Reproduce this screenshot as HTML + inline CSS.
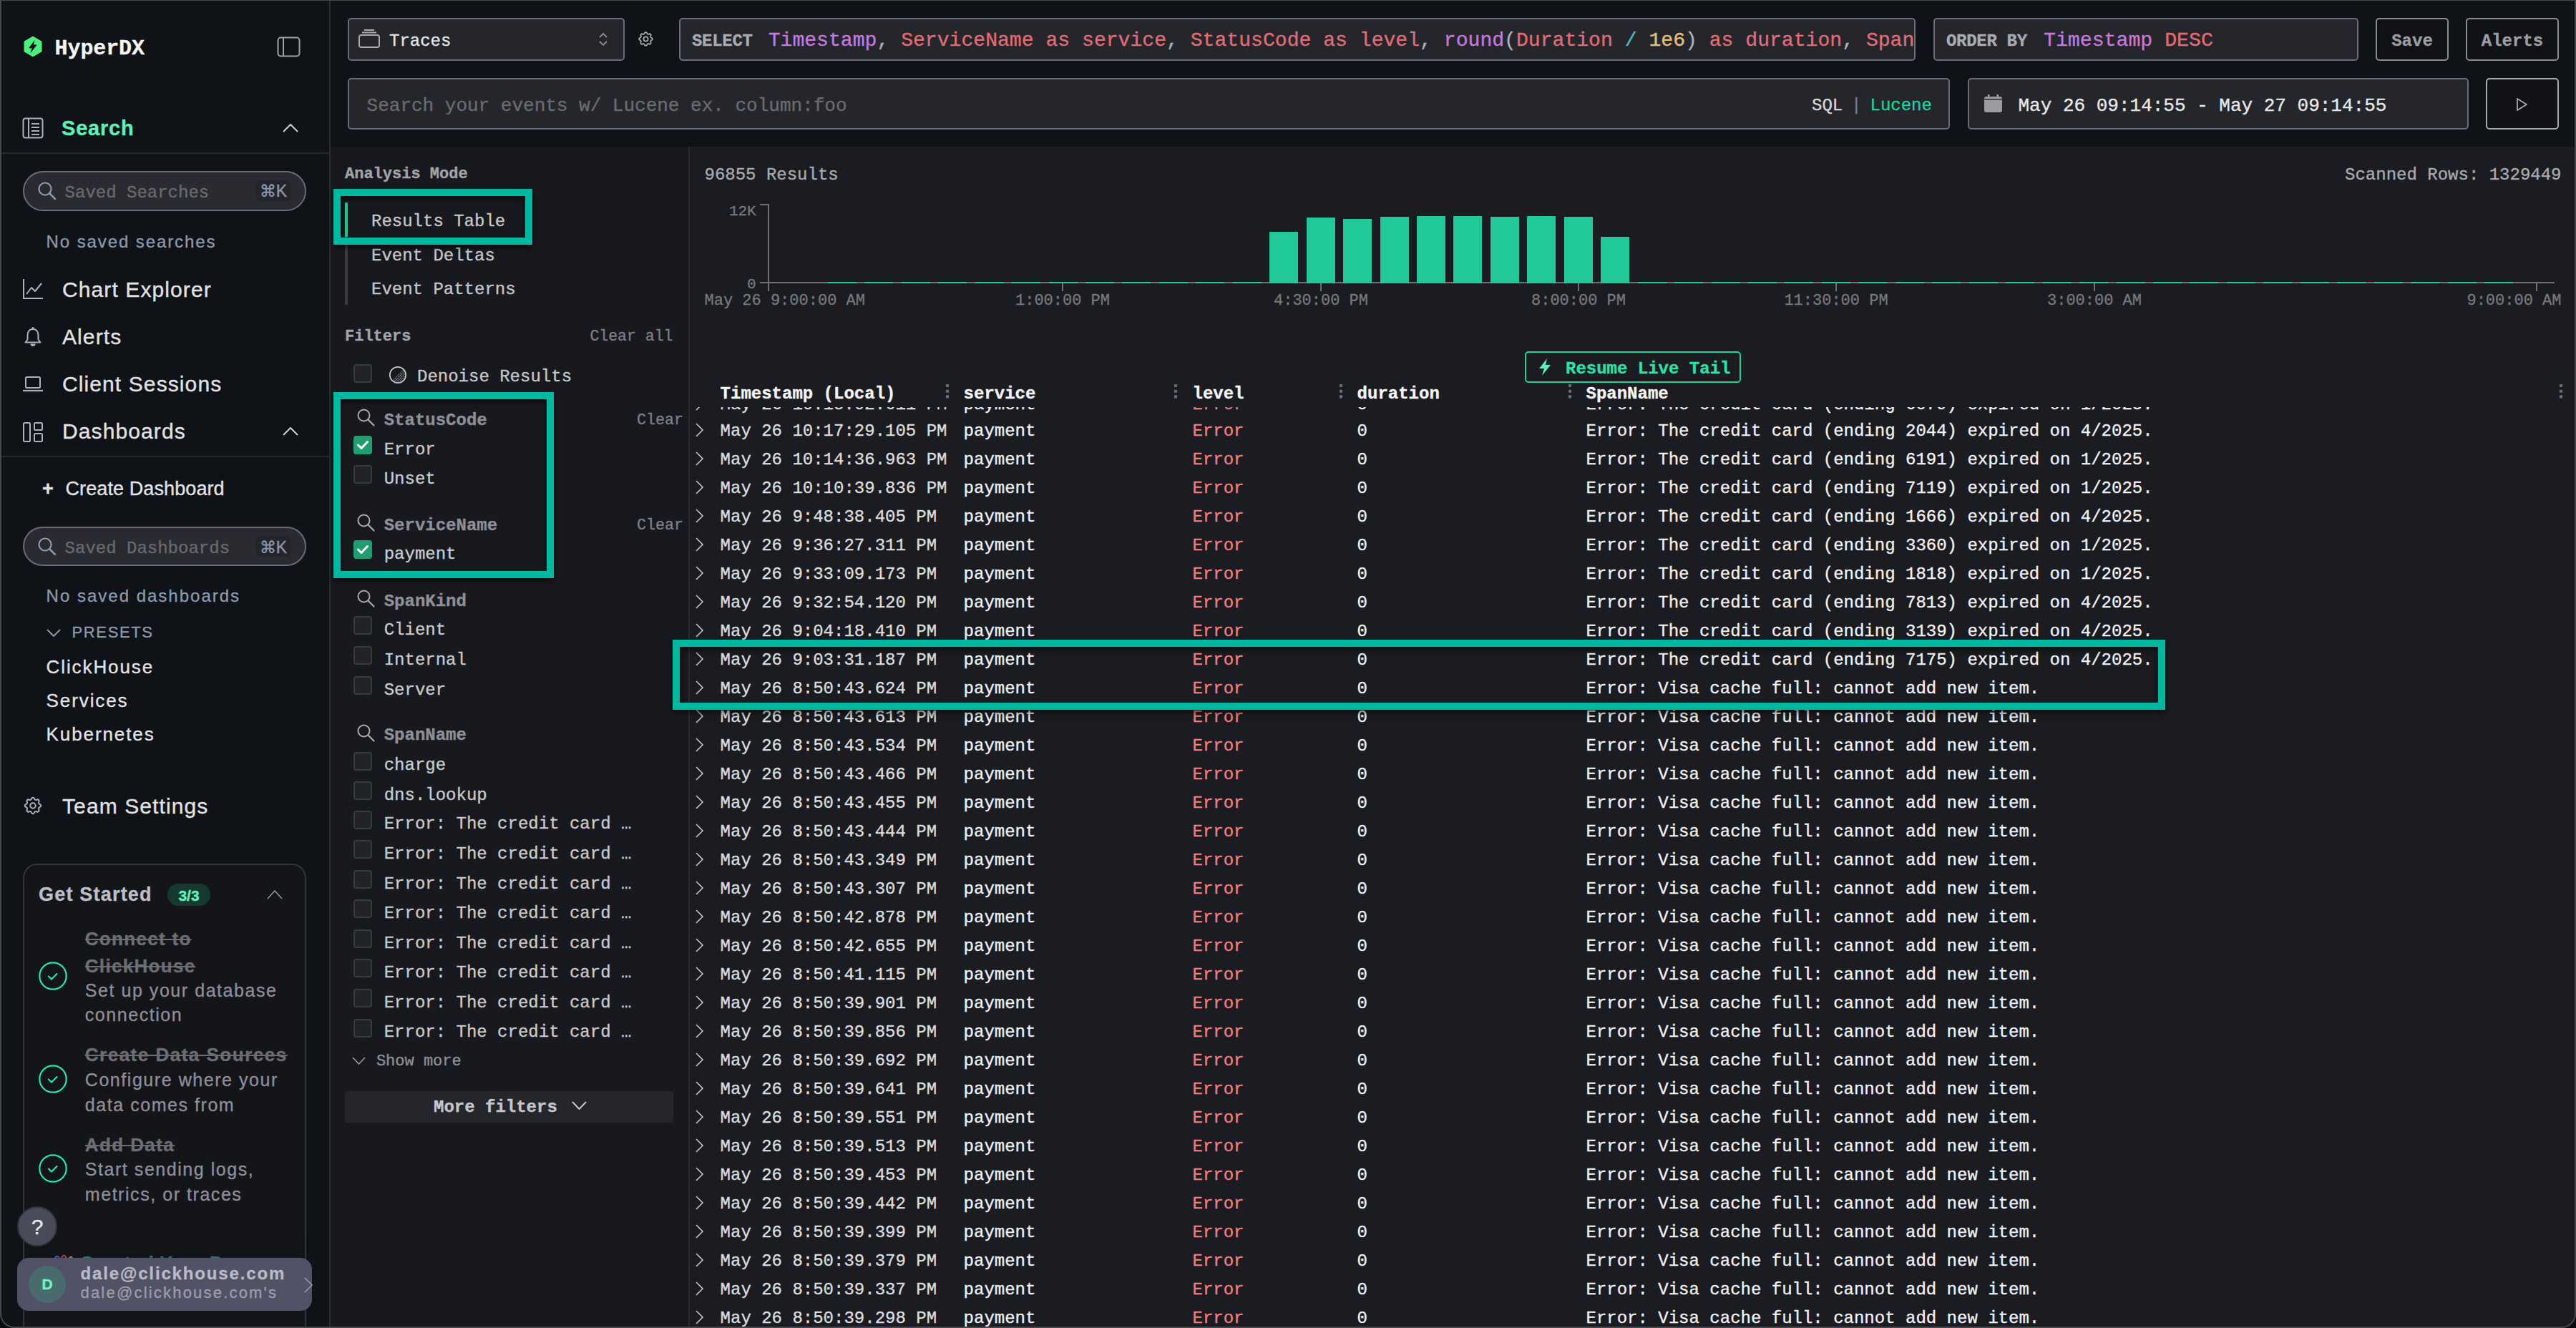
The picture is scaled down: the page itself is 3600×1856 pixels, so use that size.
<!DOCTYPE html>
<html><head><meta charset="utf-8"><title>HyperDX Search</title>
<style>
html,body{margin:0;padding:0;width:3600px;height:1856px;overflow:hidden;background:#0a0a0b;}
#root{position:relative;width:3600px;height:1856px;overflow:hidden;}
.t{position:absolute;white-space:pre;line-height:1;-webkit-text-stroke:0.35px currentColor;}
.r{position:absolute;display:block;}
</style></head><body><div id="root">
<div class="r" style="left:0px;top:0px;width:460px;height:1856px;background:#0f1217;"></div>
<div class="r" style="left:460px;top:0px;width:2px;height:1856px;background:#2a2b30;"></div>
<div class="r" style="left:462px;top:0px;width:3138px;height:205px;background:#0f1217;"></div>
<div class="r" style="left:462px;top:205px;width:3138px;height:1651px;background:#1b1c21;"></div>
<div class="r" style="left:462px;top:205px;width:500px;height:1651px;background:#18191e;"></div>
<div class="r" style="left:962px;top:205px;width:2px;height:1651px;background:#2a2b30;"></div>
<svg class="r" style="left:33px;top:50px;" width="26" height="30" viewBox="0 0 26 30"><path d="M13 1 L25 8 L25 22 L13 29 L1 22 L1 8 Z" fill="#4cef7e" stroke="#4cef7e" stroke-width="1" stroke-linejoin="round"/><path d="M15.5 6 L7.2 17.2 L11.6 17.2 L9.6 24.5 L18.6 12.4 L14 12.4 Z" fill="#0f1217"/></svg>
<div class="t" style="left:76.6px;top:53.0px;font-family:'Liberation Mono', monospace;font-size:30px;color:#f4f4f5;font-weight:700;letter-spacing:-0.1px;">HyperDX</div>
<svg class="r" style="left:387px;top:51px;" width="33" height="29" viewBox="0 0 33 29"><rect x="1.5" y="1.5" width="30" height="26" rx="4" fill="none" stroke="#9fa1a7" stroke-width="2"/><line x1="9" y1="2" x2="9" y2="27" stroke="#9fa1a7" stroke-width="2"/></svg>
<svg class="r" style="left:31px;top:164px;" width="30" height="30" viewBox="0 0 30 30"><rect x="1.5" y="1.5" width="27" height="27" rx="3" fill="none" stroke="#aab2bf" stroke-width="2"/><line x1="9" y1="2" x2="9" y2="28" stroke="#aab2bf" stroke-width="2"/><line x1="13" y1="9" x2="24" y2="9" stroke="#aab2bf" stroke-width="2"/><line x1="13" y1="14" x2="24" y2="14" stroke="#aab2bf" stroke-width="2"/><line x1="13" y1="19" x2="24" y2="19" stroke="#aab2bf" stroke-width="2"/><line x1="13" y1="24" x2="24" y2="24" stroke="#aab2bf" stroke-width="2"/></svg>
<div class="t" style="left:86.0px;top:165.3px;font-family:'Liberation Sans', sans-serif;font-size:29px;color:#5ef0b6;font-weight:700;letter-spacing:0.8px;">Search</div>
<svg class="r" style="left:395px;top:173px;" width="22" height="12" viewBox="0 0 22 12"><polyline points="1,11 11.0,1 21,11" fill="none" stroke="#d0d2d6" stroke-width="2"/></svg>
<div class="r" style="left:0px;top:213px;width:460px;height:2px;background:#25272c;"></div>
<div class="r" style="left:32px;top:239px;width:396px;height:56px;background:#2a2b31;border:2px solid #6a697a;border-radius:28px;box-sizing:border-box;"></div>
<svg class="r" style="left:52px;top:253px;" width="27" height="27" viewBox="0 0 27 27"><circle cx="11" cy="11" r="8.5" fill="none" stroke="#8b9ab0" stroke-width="2.2"/><line x1="17.5" y1="17.5" x2="25" y2="25" stroke="#8b9ab0" stroke-width="2.5" stroke-linecap="round"/></svg>
<div class="t" style="left:90.6px;top:257.8px;font-family:'Liberation Mono', monospace;font-size:24px;color:#696a70;">Saved Searches</div>
<div class="r" style="left:357px;top:252px;width:50px;height:29px;background:#24252a;border-radius:7px;"></div>
<div class="t" style="left:382.0px;top:256.4px;font-family:'Liberation Sans', sans-serif;font-size:23px;color:#8a99ae;transform:translateX(-50%);">⌘K</div>
<div class="t" style="left:64.6px;top:325.6px;font-family:'Liberation Sans', sans-serif;font-size:24px;color:#8b99ad;letter-spacing:1.9px;">No saved searches</div>
<svg class="r" style="left:31px;top:389px;" width="30" height="30" viewBox="0 0 30 30"><polyline points="2,1 2,28 29,28" fill="none" stroke="#aab2bf" stroke-width="2"/><polyline points="6,22 13,13 18,18 27,7" fill="none" stroke="#aab2bf" stroke-width="2" stroke-linejoin="round"/></svg>
<div class="t" style="left:87.0px;top:389.5px;font-family:'Liberation Sans', sans-serif;font-size:30px;color:#e2e2e4;letter-spacing:1.1px;">Chart Explorer</div>
<svg class="r" style="left:31px;top:455px;" width="30" height="32" viewBox="0 0 30 32"><path d="M15 5 C9.5 5 7.5 9.5 7.5 13.5 L7.5 19.5 L4.5 23.5 L25.5 23.5 L22.5 19.5 L22.5 13.5 C22.5 9.5 20.5 5 15 5 Z" fill="none" stroke="#aab2bf" stroke-width="2" stroke-linejoin="round"/><circle cx="15" cy="3.6" r="1.6" fill="#aab2bf"/><path d="M11.5 25.5 A3.5 3.5 0 0 0 18.5 25.5 Z" fill="#aab2bf"/></svg>
<div class="t" style="left:87.0px;top:455.5px;font-family:'Liberation Sans', sans-serif;font-size:30px;color:#e2e2e4;letter-spacing:1.1px;">Alerts</div>
<svg class="r" style="left:31px;top:525px;" width="30" height="24" viewBox="0 0 30 24"><rect x="5" y="2" width="20" height="15" rx="1.5" fill="none" stroke="#aab2bf" stroke-width="2"/><line x1="1" y1="21" x2="29" y2="21" stroke="#aab2bf" stroke-width="2.2"/></svg>
<div class="t" style="left:87.0px;top:521.5px;font-family:'Liberation Sans', sans-serif;font-size:30px;color:#e2e2e4;letter-spacing:1.1px;">Client Sessions</div>
<svg class="r" style="left:31px;top:589px;" width="30" height="30" viewBox="0 0 30 30"><rect x="2" y="2" width="9" height="26" rx="1.5" fill="none" stroke="#aab2bf" stroke-width="2"/><rect x="17" y="2" width="11" height="10" rx="1.5" fill="none" stroke="#aab2bf" stroke-width="2"/><rect x="17" y="17" width="11" height="11" rx="1.5" fill="none" stroke="#aab2bf" stroke-width="2"/></svg>
<div class="t" style="left:87.0px;top:587.5px;font-family:'Liberation Sans', sans-serif;font-size:30px;color:#e2e2e4;letter-spacing:1.1px;">Dashboards</div>
<svg class="r" style="left:395px;top:597px;" width="22" height="12" viewBox="0 0 22 12"><polyline points="1,11 11.0,1 21,11" fill="none" stroke="#d0d2d6" stroke-width="2"/></svg>
<div class="r" style="left:0px;top:637px;width:460px;height:2px;background:#25272c;"></div>
<div class="t" style="left:59.0px;top:670.0px;font-family:'Liberation Sans', sans-serif;font-size:27px;color:#e2e2e4;font-weight:700;">+</div>
<div class="t" style="left:91.5px;top:670.0px;font-family:'Liberation Sans', sans-serif;font-size:27px;color:#e2e2e4;letter-spacing:0.1px;">Create Dashboard</div>
<div class="r" style="left:32px;top:736px;width:396px;height:55px;background:#2a2b31;border:2px solid #6a697a;border-radius:28px;box-sizing:border-box;"></div>
<svg class="r" style="left:52px;top:750px;" width="27" height="27" viewBox="0 0 27 27"><circle cx="11" cy="11" r="8.5" fill="none" stroke="#8b9ab0" stroke-width="2.2"/><line x1="17.5" y1="17.5" x2="25" y2="25" stroke="#8b9ab0" stroke-width="2.5" stroke-linecap="round"/></svg>
<div class="t" style="left:90.6px;top:754.8px;font-family:'Liberation Mono', monospace;font-size:24px;color:#696a70;">Saved Dashboards</div>
<div class="r" style="left:357px;top:749px;width:50px;height:29px;background:#24252a;border-radius:7px;"></div>
<div class="t" style="left:382.0px;top:753.5px;font-family:'Liberation Sans', sans-serif;font-size:23px;color:#8a99ae;transform:translateX(-50%);">⌘K</div>
<div class="t" style="left:64.6px;top:820.6px;font-family:'Liberation Sans', sans-serif;font-size:24px;color:#8b99ad;letter-spacing:2.0px;">No saved dashboards</div>
<svg class="r" style="left:65px;top:879px;" width="20" height="11" viewBox="0 0 20 11"><polyline points="1,1 10.0,10 19,1" fill="none" stroke="#8b99ad" stroke-width="2"/></svg>
<div class="t" style="left:100.6px;top:873.3px;font-family:'Liberation Sans', sans-serif;font-size:22px;color:#8b99ad;letter-spacing:1.6px;">PRESETS</div>
<div class="t" style="left:64.6px;top:919.3px;font-family:'Liberation Sans', sans-serif;font-size:26px;color:#e2e2e4;letter-spacing:1.9px;">ClickHouse</div>
<div class="t" style="left:64.6px;top:965.9px;font-family:'Liberation Sans', sans-serif;font-size:26px;color:#e2e2e4;letter-spacing:1.9px;">Services</div>
<div class="t" style="left:64.6px;top:1012.5px;font-family:'Liberation Sans', sans-serif;font-size:26px;color:#e2e2e4;letter-spacing:1.9px;">Kubernetes</div>
<svg class="r" style="left:31px;top:1111px;" width="30" height="30" viewBox="0 0 24 24"><path d="M10.325 4.317c.426 -1.756 2.924 -1.756 3.35 0a1.724 1.724 0 0 0 2.573 1.066c1.543 -.94 3.31 .826 2.37 2.37a1.724 1.724 0 0 0 1.065 2.572c1.756 .426 1.756 2.924 0 3.35a1.724 1.724 0 0 0 -1.066 2.573c.94 1.543 -.826 3.31 -2.37 2.37a1.724 1.724 0 0 0 -2.572 1.065c-.426 1.756 -2.924 1.756 -3.35 0a1.724 1.724 0 0 0 -2.573 -1.066c-1.543 .94 -3.31 -.826 -2.37 -2.37a1.724 1.724 0 0 0 -1.065 -2.572c-1.756 -.426 -1.756 -2.924 0 -3.35a1.724 1.724 0 0 0 1.066 -2.573c-.94 -1.543 .826 -3.31 2.37 -2.37c1 .608 2.296 .07 2.572 -1.065z" fill="none" stroke="#aab2bf" stroke-width="1.60" stroke-linejoin="round"/><circle cx="12" cy="12" r="3" fill="none" stroke="#aab2bf" stroke-width="1.60"/></svg>
<div class="t" style="left:87.0px;top:1112.1px;font-family:'Liberation Sans', sans-serif;font-size:30px;color:#e2e2e4;letter-spacing:1.1px;">Team Settings</div>
<div class="r" style="left:32px;top:1207px;width:396px;height:693px;background:#141519;border:2px solid #33343a;border-radius:20px;box-sizing:border-box;"></div>
<div class="t" style="left:54.0px;top:1237.0px;font-family:'Liberation Sans', sans-serif;font-size:27px;color:#bdbec6;font-weight:700;letter-spacing:1.2px;">Get Started</div>
<div class="r" style="left:234px;top:1235px;width:60px;height:31px;background:#173a30;border-radius:16px;"></div>
<div class="t" style="left:264.0px;top:1241.2px;font-family:'Liberation Sans', sans-serif;font-size:21px;color:#62f2bf;font-weight:700;transform:translateX(-50%);">3/3</div>
<svg class="r" style="left:373px;top:1244px;" width="22" height="13" viewBox="0 0 22 13"><polyline points="1,12 11.0,1 21,12" fill="none" stroke="#8896aa" stroke-width="1.6"/></svg>
<div class="t" style="left:118.8px;top:1298.9px;font-family:'Liberation Sans', sans-serif;font-size:26px;color:#6c6d75;font-weight:700;letter-spacing:1.3px;text-decoration:line-through;text-decoration-thickness:2px;">Connect to</div>
<div class="t" style="left:118.8px;top:1337.4px;font-family:'Liberation Sans', sans-serif;font-size:26px;color:#6c6d75;font-weight:700;letter-spacing:1.3px;text-decoration:line-through;text-decoration-thickness:2px;">ClickHouse</div>
<svg class="r" style="left:54px;top:1344px;" width="40" height="40" viewBox="0 0 40 40"><circle cx="20" cy="20" r="18.7" fill="none" stroke="#27e8a8" stroke-width="2.2"/><polyline points="14,20.5 18,24.5 25.5,17" fill="none" stroke="#27e8a8" stroke-width="2.2" stroke-linecap="round" stroke-linejoin="round"/></svg>
<div class="t" style="left:118.8px;top:1371.8px;font-family:'Liberation Sans', sans-serif;font-size:25px;color:#8e8d99;letter-spacing:1.55px;">Set up your database</div>
<div class="t" style="left:118.8px;top:1405.8px;font-family:'Liberation Sans', sans-serif;font-size:25px;color:#8e8d99;letter-spacing:1.55px;">connection</div>
<div class="t" style="left:118.8px;top:1461.4px;font-family:'Liberation Sans', sans-serif;font-size:26px;color:#6c6d75;font-weight:700;letter-spacing:1.5px;text-decoration:line-through;text-decoration-thickness:2px;">Create Data Sources</div>
<svg class="r" style="left:54px;top:1488px;" width="40" height="40" viewBox="0 0 40 40"><circle cx="20" cy="20" r="18.7" fill="none" stroke="#27e8a8" stroke-width="2.2"/><polyline points="14,20.5 18,24.5 25.5,17" fill="none" stroke="#27e8a8" stroke-width="2.2" stroke-linecap="round" stroke-linejoin="round"/></svg>
<div class="t" style="left:118.8px;top:1497.2px;font-family:'Liberation Sans', sans-serif;font-size:25px;color:#8e8d99;letter-spacing:1.55px;">Configure where your</div>
<div class="t" style="left:118.8px;top:1531.5px;font-family:'Liberation Sans', sans-serif;font-size:25px;color:#8e8d99;letter-spacing:1.55px;">data comes from</div>
<div class="t" style="left:118.8px;top:1586.5px;font-family:'Liberation Sans', sans-serif;font-size:26px;color:#6c6d75;font-weight:700;letter-spacing:1.4px;text-decoration:line-through;text-decoration-thickness:2px;">Add Data</div>
<svg class="r" style="left:54px;top:1613px;" width="40" height="40" viewBox="0 0 40 40"><circle cx="20" cy="20" r="18.7" fill="none" stroke="#27e8a8" stroke-width="2.2"/><polyline points="14,20.5 18,24.5 25.5,17" fill="none" stroke="#27e8a8" stroke-width="2.2" stroke-linecap="round" stroke-linejoin="round"/></svg>
<div class="t" style="left:118.8px;top:1621.8px;font-family:'Liberation Sans', sans-serif;font-size:25px;color:#8e8d99;letter-spacing:1.55px;">Start sending logs,</div>
<div class="t" style="left:118.8px;top:1656.5px;font-family:'Liberation Sans', sans-serif;font-size:25px;color:#8e8d99;letter-spacing:1.55px;">metrics, or traces</div>
<div class="r" style="left:34px;top:1727px;width:392px;height:33px;background:#131418;"></div>
<div class="t" style="left:112.0px;top:1751.9px;font-family:'Liberation Sans', sans-serif;font-size:26px;color:#1f7a5c;font-weight:700;letter-spacing:1px;">Created Your Da</div>
<svg class="r" style="left:73px;top:1750px;" width="30" height="14" viewBox="0 0 30 14"><path d="M2 12 Q6 2 10 8" stroke="#3a5fd0" stroke-width="2" fill="none"/><path d="M12 10 Q16 0 20 9" stroke="#c33a4a" stroke-width="2" fill="none"/><path d="M22 12 Q25 4 28 8" stroke="#b8862a" stroke-width="2" fill="none"/></svg>
<div class="r" style="left:24px;top:1686px;width:56px;height:56px;background:#4a4b59;border:2px solid #33343c;border-radius:50%;box-sizing:border-box;"></div>
<div class="t" style="left:52.0px;top:1699.5px;font-family:'Liberation Sans', sans-serif;font-size:30px;color:#e8e8ea;transform:translateX(-50%);">?</div>
<div class="r" style="left:24px;top:1758px;width:412px;height:74px;background:#515266;border-radius:16px;"></div>
<div class="r" style="left:40px;top:1769px;width:52px;height:52px;background:#4a6b6e;border-radius:50%;"></div>
<div class="t" style="left:66.0px;top:1784.2px;font-family:'Liberation Sans', sans-serif;font-size:21px;color:#6ef5c4;font-weight:700;transform:translateX(-50%);">D</div>
<div class="t" style="left:112.5px;top:1768.2px;font-family:'Liberation Sans', sans-serif;font-size:24px;color:#babac4;font-weight:700;letter-spacing:1.85px;">dale@clickhouse.com</div>
<div class="t" style="left:112.5px;top:1796.1px;font-family:'Liberation Sans', sans-serif;font-size:22px;color:#9d9da6;letter-spacing:2.2px;">dale@clickhouse.com's</div>
<svg class="r" style="left:424px;top:1784px;" width="14" height="24" viewBox="0 0 14 24"><polyline points="2,2 12,12 2,22" fill="none" stroke="#8c9cb4" stroke-width="1.6"/></svg>
<div class="r" style="left:486px;top:25px;width:387px;height:60px;background:#25262b;border:2px solid #6b6b7a;border-radius:5px;box-sizing:border-box;"></div>
<svg class="r" style="left:500px;top:40px;" width="32" height="28" viewBox="0 0 32 28"><rect x="2" y="9" width="28" height="17" rx="3" fill="none" stroke="#a9abb0" stroke-width="2"/><line x1="6" y1="5.5" x2="26" y2="5.5" stroke="#a9abb0" stroke-width="2"/><line x1="9" y1="2" x2="23" y2="2" stroke="#a9abb0" stroke-width="2"/></svg>
<div class="t" style="left:544.0px;top:45.8px;font-family:'Liberation Mono', monospace;font-size:24px;color:#e4e4e6;">Traces</div>
<svg class="r" style="left:836px;top:45px;" width="14" height="20" viewBox="0 0 14 20"><polyline points="2,7 7,2 12,7" fill="none" stroke="#8c8e94" stroke-width="1.8"/><polyline points="2,13 7,18 12,13" fill="none" stroke="#8c8e94" stroke-width="1.8"/></svg>
<svg class="r" style="left:890px;top:42px;" width="25" height="25" viewBox="0 0 24 24"><path d="M10.325 4.317c.426 -1.756 2.924 -1.756 3.35 0a1.724 1.724 0 0 0 2.573 1.066c1.543 -.94 3.31 .826 2.37 2.37a1.724 1.724 0 0 0 1.065 2.572c1.756 .426 1.756 2.924 0 3.35a1.724 1.724 0 0 0 -1.066 2.573c.94 1.543 -.826 3.31 -2.37 2.37a1.724 1.724 0 0 0 -2.572 1.065c-.426 1.756 -2.924 1.756 -3.35 0a1.724 1.724 0 0 0 -2.573 -1.066c-1.543 .94 -3.31 -.826 -2.37 -2.37a1.724 1.724 0 0 0 -1.065 -2.572c-1.756 -.426 -1.756 -2.924 0 -3.35a1.724 1.724 0 0 0 1.066 -2.573c-.94 -1.543 .826 -3.31 2.37 -2.37c1 .608 2.296 .07 2.572 -1.065z" fill="none" stroke="#a9abb0" stroke-width="1.73" stroke-linejoin="round"/><circle cx="12" cy="12" r="3" fill="none" stroke="#a9abb0" stroke-width="1.73"/></svg>
<div class="r" style="left:949px;top:25px;width:1728px;height:60px;background:#25262b;border:2px solid #6b6b7a;border-radius:5px;box-sizing:border-box;"></div>
<div class="t" style="left:967.0px;top:46.3px;font-family:'Liberation Mono', monospace;font-size:24px;color:#a9abb1;font-weight:700;letter-spacing:-0.3px;">SELECT</div>
<div class="r" style="left:951px;top:27px;width:1724px;height:56px;overflow:hidden;">
<div class="t" style="left:122.7px;top:15.8px;font-family:'Liberation Mono', monospace;font-size:28.1px;color:#abb2bf;"><span style="color:#c678dd">Timestamp</span><span style="color:#abb2bf">, </span><span style="color:#e06c75">ServiceName as service</span><span style="color:#abb2bf">, </span><span style="color:#e06c75">StatusCode as level</span><span style="color:#abb2bf">, </span><span style="color:#c678dd">round</span><span style="color:#abb2bf">(</span><span style="color:#e06c75">Duration </span><span style="color:#56b6c2">/</span><span style="color:#e06c75"> </span><span style="color:#e5c07b">1e6</span><span style="color:#abb2bf">)</span><span style="color:#e06c75"> as duration</span><span style="color:#abb2bf">, </span><span style="color:#e06c75">SpanName</span></div>
</div>
<div class="r" style="left:2702px;top:25px;width:594px;height:60px;background:#25262b;border:2px solid #6b6b7a;border-radius:5px;box-sizing:border-box;"></div>
<div class="t" style="left:2720.0px;top:46.3px;font-family:'Liberation Mono', monospace;font-size:24px;color:#a9abb1;font-weight:700;letter-spacing:-0.3px;">ORDER BY</div>
<div class="t" style="left:2856.0px;top:42.8px;font-family:'Liberation Mono', monospace;font-size:28.2px;color:#abb2bf;"><span style="color:#c678dd">Timestamp</span> <span style="color:#e06c75">DESC</span></div>
<div class="r" style="left:3320px;top:25px;width:102px;height:60px;background:#101216;border:2px solid #8b8c92;border-radius:5px;box-sizing:border-box;"></div>
<div class="t" style="left:3371.0px;top:45.8px;font-family:'Liberation Mono', monospace;font-size:24px;color:#9c9ea3;font-weight:700;transform:translateX(-50%);">Save</div>
<div class="r" style="left:3446px;top:25px;width:130px;height:60px;background:#101216;border:2px solid #8b8c92;border-radius:5px;box-sizing:border-box;"></div>
<div class="t" style="left:3511.0px;top:45.8px;font-family:'Liberation Mono', monospace;font-size:24px;color:#9c9ea3;font-weight:700;transform:translateX(-50%);">Alerts</div>
<div class="r" style="left:486px;top:109px;width:2239px;height:72px;background:#25262b;border:2px solid #6b6b7a;border-radius:5px;box-sizing:border-box;"></div>
<div class="t" style="left:512.6px;top:135.2px;font-family:'Liberation Mono', monospace;font-size:26px;color:#6a6b71;">Search your events w/ Lucene ex. column:foo</div>
<div class="t" style="left:2532.0px;top:135.5px;font-family:'Liberation Mono', monospace;font-size:24px;color:#d6d7da;">SQL</div>
<div class="t" style="left:2587.0px;top:135.5px;font-family:'Liberation Mono', monospace;font-size:24px;color:#7d7f85;">|</div>
<div class="t" style="left:2613.5px;top:135.5px;font-family:'Liberation Mono', monospace;font-size:24px;color:#22d3a0;">Lucene</div>
<div class="r" style="left:2750px;top:109px;width:700px;height:72px;background:#25262b;border:2px solid #6b6b7a;border-radius:5px;box-sizing:border-box;"></div>
<svg class="r" style="left:2772px;top:131px;" width="28" height="28" viewBox="0 0 28 28"><rect x="1" y="4" width="25" height="22" rx="3" fill="#9a9ca2"/><rect x="6" y="1" width="2.5" height="6" fill="#9a9ca2"/><rect x="18.5" y="1" width="2.5" height="6" fill="#9a9ca2"/><rect x="1" y="7" width="25" height="1.5" fill="#25262b"/></svg>
<div class="t" style="left:2820.5px;top:134.5px;font-family:'Liberation Mono', monospace;font-size:26px;color:#e8e8ea;">May 26 09:14:55 - May 27 09:14:55</div>
<div class="r" style="left:3474px;top:109px;width:102px;height:72px;background:#101216;border:2px solid #a9aaaf;border-radius:5px;box-sizing:border-box;"></div>
<svg class="r" style="left:3516px;top:136px;" width="18" height="20" viewBox="0 0 18 20"><polygon points="2,2 15,10 2,18" fill="none" stroke="#a9abb0" stroke-width="1.8" stroke-linejoin="round"/></svg>
<div class="t" style="left:482.0px;top:233.3px;font-family:'Liberation Mono', monospace;font-size:22px;color:#a3a4a9;font-weight:700;">Analysis Mode</div>
<div class="r" style="left:482px;top:283px;width:4px;height:143px;background:#3a3b41;"></div>
<div class="r" style="left:482px;top:283px;width:4px;height:48px;background:#1ec98f;"></div>
<div class="t" style="left:519.0px;top:298.4px;font-family:'Liberation Mono', monospace;font-size:24px;color:#c6c7cb;">Results Table</div>
<div class="t" style="left:519.0px;top:345.8px;font-family:'Liberation Mono', monospace;font-size:24px;color:#c6c7cb;">Event Deltas</div>
<div class="t" style="left:519.0px;top:393.3px;font-family:'Liberation Mono', monospace;font-size:24px;color:#c6c7cb;">Event Patterns</div>
<div class="t" style="left:482.0px;top:459.9px;font-family:'Liberation Mono', monospace;font-size:22px;color:#a3a4a9;font-weight:700;">Filters</div>
<div class="t" style="right:2659.5px;top:460.3px;font-family:'Liberation Mono', monospace;font-size:21.5px;color:#7d7f85;">Clear all</div>
<div class="r" style="left:494px;top:509px;width:26px;height:26px;background:#222328;border:2px solid #383a41;border-radius:4px;box-sizing:border-box;"></div>
<svg class="r" style="left:543px;top:511px;" width="26" height="26" viewBox="0 0 26 26"><defs><pattern id="hat" width="2.6" height="2.6" patternUnits="userSpaceOnUse" patternTransform="rotate(45)"><rect width="1.3" height="1.3" fill="#b0b3bd"/></pattern></defs><path d="M20.5 5.5 A10.6 10.6 0 0 1 5.5 20.5 Z" fill="url(#hat)"/><circle cx="13" cy="13" r="11.2" fill="none" stroke="#c4c6ce" stroke-width="1.7"/></svg>
<div class="t" style="left:583.0px;top:514.8px;font-family:'Liberation Mono', monospace;font-size:24px;color:#c6c7cb;">Denoise Results</div>
<svg class="r" style="left:498px;top:570px;" width="27" height="27" viewBox="0 0 27 27"><circle cx="10.5" cy="10.5" r="8" fill="none" stroke="#a9abb0" stroke-width="2"/><line x1="16.5" y1="16.5" x2="24.5" y2="24.5" stroke="#a9abb0" stroke-width="2.2" stroke-linecap="round"/></svg>
<div class="t" style="left:536.7px;top:575.8px;font-family:'Liberation Mono', monospace;font-size:24px;color:#8e8f98;font-weight:700;">StatusCode</div>
<div class="t" style="right:2645.0px;top:576.5px;font-family:'Liberation Mono', monospace;font-size:21.7px;color:#7d7f85;">Clear</div>
<svg class="r" style="left:494px;top:609px;" width="26" height="26" viewBox="0 0 26 26"><rect x="0" y="0" width="26" height="26" rx="4" fill="#1f9e70"/><polyline points="6.5,13 11,17.5 19.5,8.5" fill="none" stroke="#ffffff" stroke-width="3" stroke-linecap="round" stroke-linejoin="round"/></svg>
<div class="t" style="left:536.7px;top:616.8px;font-family:'Liberation Mono', monospace;font-size:24px;color:#c9cacd;">Error</div>
<div class="r" style="left:494px;top:650px;width:26px;height:26px;background:#222328;border:2px solid #383a41;border-radius:4px;box-sizing:border-box;"></div>
<div class="t" style="left:536.7px;top:657.8px;font-family:'Liberation Mono', monospace;font-size:24px;color:#c9cacd;">Unset</div>
<svg class="r" style="left:498px;top:717px;" width="27" height="27" viewBox="0 0 27 27"><circle cx="10.5" cy="10.5" r="8" fill="none" stroke="#a9abb0" stroke-width="2"/><line x1="16.5" y1="16.5" x2="24.5" y2="24.5" stroke="#a9abb0" stroke-width="2.2" stroke-linecap="round"/></svg>
<div class="t" style="left:536.7px;top:722.8px;font-family:'Liberation Mono', monospace;font-size:24px;color:#8e8f98;font-weight:700;">ServiceName</div>
<div class="t" style="right:2645.0px;top:723.5px;font-family:'Liberation Mono', monospace;font-size:21.7px;color:#7d7f85;">Clear</div>
<svg class="r" style="left:494px;top:755px;" width="26" height="26" viewBox="0 0 26 26"><rect x="0" y="0" width="26" height="26" rx="4" fill="#1f9e70"/><polyline points="6.5,13 11,17.5 19.5,8.5" fill="none" stroke="#ffffff" stroke-width="3" stroke-linecap="round" stroke-linejoin="round"/></svg>
<div class="t" style="left:536.7px;top:762.8px;font-family:'Liberation Mono', monospace;font-size:24px;color:#c9cacd;">payment</div>
<svg class="r" style="left:498px;top:823px;" width="27" height="27" viewBox="0 0 27 27"><circle cx="10.5" cy="10.5" r="8" fill="none" stroke="#a9abb0" stroke-width="2"/><line x1="16.5" y1="16.5" x2="24.5" y2="24.5" stroke="#a9abb0" stroke-width="2.2" stroke-linecap="round"/></svg>
<div class="t" style="left:536.7px;top:828.8px;font-family:'Liberation Mono', monospace;font-size:24px;color:#8e8f98;font-weight:700;">SpanKind</div>
<div class="r" style="left:494px;top:861px;width:26px;height:26px;background:#222328;border:2px solid #383a41;border-radius:4px;box-sizing:border-box;"></div>
<div class="t" style="left:536.7px;top:868.8px;font-family:'Liberation Mono', monospace;font-size:24px;color:#c9cacd;">Client</div>
<div class="r" style="left:494px;top:903px;width:26px;height:26px;background:#222328;border:2px solid #383a41;border-radius:4px;box-sizing:border-box;"></div>
<div class="t" style="left:536.7px;top:910.8px;font-family:'Liberation Mono', monospace;font-size:24px;color:#c9cacd;">Internal</div>
<div class="r" style="left:494px;top:945px;width:26px;height:26px;background:#222328;border:2px solid #383a41;border-radius:4px;box-sizing:border-box;"></div>
<div class="t" style="left:536.7px;top:952.8px;font-family:'Liberation Mono', monospace;font-size:24px;color:#c9cacd;">Server</div>
<svg class="r" style="left:498px;top:1010.5999999999999px;" width="27" height="27" viewBox="0 0 27 27"><circle cx="10.5" cy="10.5" r="8" fill="none" stroke="#a9abb0" stroke-width="2"/><line x1="16.5" y1="16.5" x2="24.5" y2="24.5" stroke="#a9abb0" stroke-width="2.2" stroke-linecap="round"/></svg>
<div class="t" style="left:536.7px;top:1016.4px;font-family:'Liberation Mono', monospace;font-size:24px;color:#8e8f98;font-weight:700;">SpanName</div>
<div class="r" style="left:494px;top:1050.5px;width:26px;height:26.0px;background:#222328;border:2px solid #383a41;border-radius:4px;box-sizing:border-box;"></div>
<div class="t" style="left:536.7px;top:1058.3px;font-family:'Liberation Mono', monospace;font-size:24px;color:#c9cacd;">charge</div>
<div class="r" style="left:494px;top:1092.4px;width:26px;height:26.0px;background:#222328;border:2px solid #383a41;border-radius:4px;box-sizing:border-box;"></div>
<div class="t" style="left:536.7px;top:1100.2px;font-family:'Liberation Mono', monospace;font-size:24px;color:#c9cacd;">dns.lookup</div>
<div class="r" style="left:494px;top:1132.6px;width:26px;height:26.0px;background:#222328;border:2px solid #383a41;border-radius:4px;box-sizing:border-box;"></div>
<div class="t" style="left:536.7px;top:1140.4px;font-family:'Liberation Mono', monospace;font-size:24px;color:#c9cacd;">Error: The credit card …</div>
<div class="r" style="left:494px;top:1174.1699999999998px;width:26px;height:26.0px;background:#222328;border:2px solid #383a41;border-radius:4px;box-sizing:border-box;"></div>
<div class="t" style="left:536.7px;top:1181.9px;font-family:'Liberation Mono', monospace;font-size:24px;color:#c9cacd;">Error: The credit card …</div>
<div class="r" style="left:494px;top:1215.74px;width:26px;height:26.0px;background:#222328;border:2px solid #383a41;border-radius:4px;box-sizing:border-box;"></div>
<div class="t" style="left:536.7px;top:1223.5px;font-family:'Liberation Mono', monospace;font-size:24px;color:#c9cacd;">Error: The credit card …</div>
<div class="r" style="left:494px;top:1257.31px;width:26px;height:26.0px;background:#222328;border:2px solid #383a41;border-radius:4px;box-sizing:border-box;"></div>
<div class="t" style="left:536.7px;top:1265.1px;font-family:'Liberation Mono', monospace;font-size:24px;color:#c9cacd;">Error: The credit card …</div>
<div class="r" style="left:494px;top:1298.8799999999999px;width:26px;height:26.0px;background:#222328;border:2px solid #383a41;border-radius:4px;box-sizing:border-box;"></div>
<div class="t" style="left:536.7px;top:1306.6px;font-family:'Liberation Mono', monospace;font-size:24px;color:#c9cacd;">Error: The credit card …</div>
<div class="r" style="left:494px;top:1340.4499999999998px;width:26px;height:26.0px;background:#222328;border:2px solid #383a41;border-radius:4px;box-sizing:border-box;"></div>
<div class="t" style="left:536.7px;top:1348.2px;font-family:'Liberation Mono', monospace;font-size:24px;color:#c9cacd;">Error: The credit card …</div>
<div class="r" style="left:494px;top:1382.02px;width:26px;height:26.0px;background:#222328;border:2px solid #383a41;border-radius:4px;box-sizing:border-box;"></div>
<div class="t" style="left:536.7px;top:1389.8px;font-family:'Liberation Mono', monospace;font-size:24px;color:#c9cacd;">Error: The credit card …</div>
<div class="r" style="left:494px;top:1423.59px;width:26px;height:26.0px;background:#222328;border:2px solid #383a41;border-radius:4px;box-sizing:border-box;"></div>
<div class="t" style="left:536.7px;top:1431.3px;font-family:'Liberation Mono', monospace;font-size:24px;color:#c9cacd;">Error: The credit card …</div>
<svg class="r" style="left:492px;top:1477px;" width="19" height="11" viewBox="0 0 19 11"><polyline points="1,1 9.5,10 18,1" fill="none" stroke="#8e9096" stroke-width="1.8"/></svg>
<div class="t" style="left:525.9px;top:1473.1px;font-family:'Liberation Mono', monospace;font-size:22px;color:#8e9096;">Show more</div>
<div class="r" style="left:482px;top:1525px;width:459px;height:44px;background:#25262c;border-radius:4px;"></div>
<div class="t" style="left:606.0px;top:1536.3px;font-family:'Liberation Mono', monospace;font-size:24px;color:#c6c7cb;font-weight:700;">More filters</div>
<svg class="r" style="left:799px;top:1539px;" width="21" height="12" viewBox="0 0 21 12"><polyline points="1,1 10.5,11 20,1" fill="none" stroke="#c6c7cb" stroke-width="2"/></svg>
<div class="t" style="left:984.5px;top:233.3px;font-family:'Liberation Mono', monospace;font-size:24px;color:#a9aaae;">96855 Results</div>
<div class="t" style="right:20.5px;top:233.3px;font-family:'Liberation Mono', monospace;font-size:24px;color:#a9aaae;">Scanned Rows: 1329449</div>
<div class="r" style="left:1073px;top:286px;width:2px;height:121px;background:#6f7074;"></div>
<div class="r" style="left:1062px;top:285px;width:13px;height:2px;background:#6f7074;"></div>
<div class="r" style="left:1062px;top:394px;width:2508px;height:2px;background:#6f7074;"></div>
<div class="r" style="left:1484px;top:395px;width:2px;height:12px;background:#6f7074;"></div>
<div class="r" style="left:1845px;top:395px;width:2px;height:12px;background:#6f7074;"></div>
<div class="r" style="left:2205px;top:395px;width:2px;height:12px;background:#6f7074;"></div>
<div class="r" style="left:2565px;top:395px;width:2px;height:12px;background:#6f7074;"></div>
<div class="r" style="left:2926px;top:395px;width:2px;height:12px;background:#6f7074;"></div>
<div class="r" style="left:3544px;top:395px;width:2px;height:12px;background:#6f7074;"></div>
<div class="t" style="right:2543.3px;top:285.0px;font-family:'Liberation Mono', monospace;font-size:21px;color:#76787d;">12K</div>
<div class="t" style="right:2543.3px;top:387.0px;font-family:'Liberation Mono', monospace;font-size:21px;color:#76787d;">0</div>
<div class="t" style="left:984.5px;top:409.8px;font-family:'Liberation Mono', monospace;font-size:22px;color:#76787d;">May 26 9:00:00 AM</div>
<div class="t" style="left:1485.0px;top:409.8px;font-family:'Liberation Mono', monospace;font-size:22px;color:#76787d;transform:translateX(-50%);">1:00:00 PM</div>
<div class="t" style="left:1846.0px;top:409.8px;font-family:'Liberation Mono', monospace;font-size:22px;color:#76787d;transform:translateX(-50%);">4:30:00 PM</div>
<div class="t" style="left:2206.0px;top:409.8px;font-family:'Liberation Mono', monospace;font-size:22px;color:#76787d;transform:translateX(-50%);">8:00:00 PM</div>
<div class="t" style="left:2566.0px;top:409.8px;font-family:'Liberation Mono', monospace;font-size:22px;color:#76787d;transform:translateX(-50%);">11:30:00 PM</div>
<div class="t" style="left:2927.0px;top:409.8px;font-family:'Liberation Mono', monospace;font-size:22px;color:#76787d;transform:translateX(-50%);">3:00:00 AM</div>
<div class="t" style="right:20.5px;top:409.8px;font-family:'Liberation Mono', monospace;font-size:22px;color:#76787d;">9:00:00 AM</div>
<div class="r" style="left:1157px;top:394px;width:40px;height:2px;background:#20c997;"></div>
<div class="r" style="left:1208px;top:394px;width:40px;height:2px;background:#20c997;"></div>
<div class="r" style="left:1260px;top:394px;width:40px;height:2px;background:#20c997;"></div>
<div class="r" style="left:1311px;top:394px;width:40px;height:2px;background:#20c997;"></div>
<div class="r" style="left:1363px;top:394px;width:40px;height:2px;background:#20c997;"></div>
<div class="r" style="left:1414px;top:394px;width:40px;height:2px;background:#20c997;"></div>
<div class="r" style="left:1466px;top:394px;width:40px;height:2px;background:#20c997;"></div>
<div class="r" style="left:1517px;top:394px;width:40px;height:2px;background:#20c997;"></div>
<div class="r" style="left:1568px;top:394px;width:40px;height:2px;background:#20c997;"></div>
<div class="r" style="left:1620px;top:394px;width:40px;height:2px;background:#20c997;"></div>
<div class="r" style="left:1671px;top:394px;width:40px;height:2px;background:#20c997;"></div>
<div class="r" style="left:1723px;top:394px;width:40px;height:2px;background:#20c997;"></div>
<div class="r" style="left:1774px;top:324px;width:40px;height:72px;background:#20c997;"></div>
<div class="r" style="left:1826px;top:304px;width:40px;height:92px;background:#20c997;"></div>
<div class="r" style="left:1877px;top:306px;width:40px;height:90px;background:#20c997;"></div>
<div class="r" style="left:1929px;top:303px;width:40px;height:93px;background:#20c997;"></div>
<div class="r" style="left:1980px;top:302px;width:40px;height:94px;background:#20c997;"></div>
<div class="r" style="left:2031px;top:302px;width:40px;height:94px;background:#20c997;"></div>
<div class="r" style="left:2083px;top:303px;width:40px;height:93px;background:#20c997;"></div>
<div class="r" style="left:2134px;top:302px;width:40px;height:94px;background:#20c997;"></div>
<div class="r" style="left:2186px;top:303px;width:40px;height:93px;background:#20c997;"></div>
<div class="r" style="left:2237px;top:331px;width:40px;height:65px;background:#20c997;"></div>
<div class="r" style="left:2289px;top:394px;width:40px;height:2px;background:#20c997;"></div>
<div class="r" style="left:2340px;top:394px;width:40px;height:2px;background:#20c997;"></div>
<div class="r" style="left:2392px;top:394px;width:40px;height:2px;background:#20c997;"></div>
<div class="r" style="left:2443px;top:394px;width:40px;height:2px;background:#20c997;"></div>
<div class="r" style="left:2494px;top:394px;width:40px;height:2px;background:#20c997;"></div>
<div class="r" style="left:2546px;top:394px;width:40px;height:2px;background:#20c997;"></div>
<div class="r" style="left:2597px;top:394px;width:40px;height:2px;background:#20c997;"></div>
<div class="r" style="left:2649px;top:394px;width:40px;height:2px;background:#20c997;"></div>
<div class="r" style="left:2700px;top:394px;width:40px;height:2px;background:#20c997;"></div>
<div class="r" style="left:2752px;top:394px;width:40px;height:2px;background:#20c997;"></div>
<div class="r" style="left:2803px;top:394px;width:40px;height:2px;background:#20c997;"></div>
<div class="r" style="left:2855px;top:394px;width:40px;height:2px;background:#20c997;"></div>
<div class="r" style="left:2906px;top:394px;width:40px;height:2px;background:#20c997;"></div>
<div class="r" style="left:2958px;top:394px;width:40px;height:2px;background:#20c997;"></div>
<div class="r" style="left:3009px;top:394px;width:40px;height:2px;background:#20c997;"></div>
<div class="r" style="left:3060px;top:394px;width:40px;height:2px;background:#20c997;"></div>
<div class="r" style="left:3112px;top:394px;width:40px;height:2px;background:#20c997;"></div>
<div class="r" style="left:3163px;top:394px;width:40px;height:2px;background:#20c997;"></div>
<div class="r" style="left:3215px;top:394px;width:40px;height:2px;background:#20c997;"></div>
<div class="r" style="left:3266px;top:394px;width:40px;height:2px;background:#20c997;"></div>
<div class="r" style="left:3318px;top:394px;width:40px;height:2px;background:#20c997;"></div>
<div class="r" style="left:3369px;top:394px;width:40px;height:2px;background:#20c997;"></div>
<div class="r" style="left:3421px;top:394px;width:40px;height:2px;background:#20c997;"></div>
<div class="r" style="left:3472px;top:394px;width:40px;height:2px;background:#20c997;"></div>
<svg class="r" style="left:971px;top:553px;" width="14" height="22" viewBox="0 0 14 22"><polyline points="2,2 11,11 2,20" fill="none" stroke="#c4c5c9" stroke-width="1.6"/></svg>
<div class="t" style="left:1006.6px;top:553.8px;font-family:'Liberation Mono', monospace;font-size:24px;color:#dcdcde;">May 26 10:18:02.611 PM</div>
<div class="t" style="left:1346.6px;top:553.8px;font-family:'Liberation Mono', monospace;font-size:24px;color:#f0f0f2;">payment</div>
<div class="t" style="left:1666.5px;top:553.8px;font-family:'Liberation Mono', monospace;font-size:24px;color:#f27f7f;">Error</div>
<div class="t" style="left:1896.6px;top:553.8px;font-family:'Liberation Mono', monospace;font-size:24px;color:#f0f0f2;">0</div>
<div class="t" style="left:2216.5px;top:553.8px;font-family:'Liberation Mono', monospace;font-size:24px;color:#f0f0f2;">Error: The credit card (ending 6079) expired on 1/2025.</div>
<svg class="r" style="left:971px;top:590px;" width="14" height="22" viewBox="0 0 14 22"><polyline points="2,2 11,11 2,20" fill="none" stroke="#c4c5c9" stroke-width="1.6"/></svg>
<div class="t" style="left:1006.6px;top:590.8px;font-family:'Liberation Mono', monospace;font-size:24px;color:#dcdcde;">May 26 10:17:29.105 PM</div>
<div class="t" style="left:1346.6px;top:590.8px;font-family:'Liberation Mono', monospace;font-size:24px;color:#f0f0f2;">payment</div>
<div class="t" style="left:1666.5px;top:590.8px;font-family:'Liberation Mono', monospace;font-size:24px;color:#f27f7f;">Error</div>
<div class="t" style="left:1896.6px;top:590.8px;font-family:'Liberation Mono', monospace;font-size:24px;color:#f0f0f2;">0</div>
<div class="t" style="left:2216.5px;top:590.8px;font-family:'Liberation Mono', monospace;font-size:24px;color:#f0f0f2;">Error: The credit card (ending 2044) expired on 4/2025.</div>
<svg class="r" style="left:971px;top:630px;" width="14" height="22" viewBox="0 0 14 22"><polyline points="2,2 11,11 2,20" fill="none" stroke="#c4c5c9" stroke-width="1.6"/></svg>
<div class="t" style="left:1006.6px;top:630.8px;font-family:'Liberation Mono', monospace;font-size:24px;color:#dcdcde;">May 26 10:14:36.963 PM</div>
<div class="t" style="left:1346.6px;top:630.8px;font-family:'Liberation Mono', monospace;font-size:24px;color:#f0f0f2;">payment</div>
<div class="t" style="left:1666.5px;top:630.8px;font-family:'Liberation Mono', monospace;font-size:24px;color:#f27f7f;">Error</div>
<div class="t" style="left:1896.6px;top:630.8px;font-family:'Liberation Mono', monospace;font-size:24px;color:#f0f0f2;">0</div>
<div class="t" style="left:2216.5px;top:630.8px;font-family:'Liberation Mono', monospace;font-size:24px;color:#f0f0f2;">Error: The credit card (ending 6191) expired on 1/2025.</div>
<svg class="r" style="left:971px;top:670px;" width="14" height="22" viewBox="0 0 14 22"><polyline points="2,2 11,11 2,20" fill="none" stroke="#c4c5c9" stroke-width="1.6"/></svg>
<div class="t" style="left:1006.6px;top:670.8px;font-family:'Liberation Mono', monospace;font-size:24px;color:#dcdcde;">May 26 10:10:39.836 PM</div>
<div class="t" style="left:1346.6px;top:670.8px;font-family:'Liberation Mono', monospace;font-size:24px;color:#f0f0f2;">payment</div>
<div class="t" style="left:1666.5px;top:670.8px;font-family:'Liberation Mono', monospace;font-size:24px;color:#f27f7f;">Error</div>
<div class="t" style="left:1896.6px;top:670.8px;font-family:'Liberation Mono', monospace;font-size:24px;color:#f0f0f2;">0</div>
<div class="t" style="left:2216.5px;top:670.8px;font-family:'Liberation Mono', monospace;font-size:24px;color:#f0f0f2;">Error: The credit card (ending 7119) expired on 1/2025.</div>
<svg class="r" style="left:971px;top:710px;" width="14" height="22" viewBox="0 0 14 22"><polyline points="2,2 11,11 2,20" fill="none" stroke="#c4c5c9" stroke-width="1.6"/></svg>
<div class="t" style="left:1006.6px;top:710.8px;font-family:'Liberation Mono', monospace;font-size:24px;color:#dcdcde;">May 26 9:48:38.405 PM</div>
<div class="t" style="left:1346.6px;top:710.8px;font-family:'Liberation Mono', monospace;font-size:24px;color:#f0f0f2;">payment</div>
<div class="t" style="left:1666.5px;top:710.8px;font-family:'Liberation Mono', monospace;font-size:24px;color:#f27f7f;">Error</div>
<div class="t" style="left:1896.6px;top:710.8px;font-family:'Liberation Mono', monospace;font-size:24px;color:#f0f0f2;">0</div>
<div class="t" style="left:2216.5px;top:710.8px;font-family:'Liberation Mono', monospace;font-size:24px;color:#f0f0f2;">Error: The credit card (ending 1666) expired on 4/2025.</div>
<svg class="r" style="left:971px;top:750px;" width="14" height="22" viewBox="0 0 14 22"><polyline points="2,2 11,11 2,20" fill="none" stroke="#c4c5c9" stroke-width="1.6"/></svg>
<div class="t" style="left:1006.6px;top:750.8px;font-family:'Liberation Mono', monospace;font-size:24px;color:#dcdcde;">May 26 9:36:27.311 PM</div>
<div class="t" style="left:1346.6px;top:750.8px;font-family:'Liberation Mono', monospace;font-size:24px;color:#f0f0f2;">payment</div>
<div class="t" style="left:1666.5px;top:750.8px;font-family:'Liberation Mono', monospace;font-size:24px;color:#f27f7f;">Error</div>
<div class="t" style="left:1896.6px;top:750.8px;font-family:'Liberation Mono', monospace;font-size:24px;color:#f0f0f2;">0</div>
<div class="t" style="left:2216.5px;top:750.8px;font-family:'Liberation Mono', monospace;font-size:24px;color:#f0f0f2;">Error: The credit card (ending 3360) expired on 1/2025.</div>
<svg class="r" style="left:971px;top:790px;" width="14" height="22" viewBox="0 0 14 22"><polyline points="2,2 11,11 2,20" fill="none" stroke="#c4c5c9" stroke-width="1.6"/></svg>
<div class="t" style="left:1006.6px;top:790.8px;font-family:'Liberation Mono', monospace;font-size:24px;color:#dcdcde;">May 26 9:33:09.173 PM</div>
<div class="t" style="left:1346.6px;top:790.8px;font-family:'Liberation Mono', monospace;font-size:24px;color:#f0f0f2;">payment</div>
<div class="t" style="left:1666.5px;top:790.8px;font-family:'Liberation Mono', monospace;font-size:24px;color:#f27f7f;">Error</div>
<div class="t" style="left:1896.6px;top:790.8px;font-family:'Liberation Mono', monospace;font-size:24px;color:#f0f0f2;">0</div>
<div class="t" style="left:2216.5px;top:790.8px;font-family:'Liberation Mono', monospace;font-size:24px;color:#f0f0f2;">Error: The credit card (ending 1818) expired on 1/2025.</div>
<svg class="r" style="left:971px;top:830px;" width="14" height="22" viewBox="0 0 14 22"><polyline points="2,2 11,11 2,20" fill="none" stroke="#c4c5c9" stroke-width="1.6"/></svg>
<div class="t" style="left:1006.6px;top:830.8px;font-family:'Liberation Mono', monospace;font-size:24px;color:#dcdcde;">May 26 9:32:54.120 PM</div>
<div class="t" style="left:1346.6px;top:830.8px;font-family:'Liberation Mono', monospace;font-size:24px;color:#f0f0f2;">payment</div>
<div class="t" style="left:1666.5px;top:830.8px;font-family:'Liberation Mono', monospace;font-size:24px;color:#f27f7f;">Error</div>
<div class="t" style="left:1896.6px;top:830.8px;font-family:'Liberation Mono', monospace;font-size:24px;color:#f0f0f2;">0</div>
<div class="t" style="left:2216.5px;top:830.8px;font-family:'Liberation Mono', monospace;font-size:24px;color:#f0f0f2;">Error: The credit card (ending 7813) expired on 4/2025.</div>
<svg class="r" style="left:971px;top:870px;" width="14" height="22" viewBox="0 0 14 22"><polyline points="2,2 11,11 2,20" fill="none" stroke="#c4c5c9" stroke-width="1.6"/></svg>
<div class="t" style="left:1006.6px;top:870.8px;font-family:'Liberation Mono', monospace;font-size:24px;color:#dcdcde;">May 26 9:04:18.410 PM</div>
<div class="t" style="left:1346.6px;top:870.8px;font-family:'Liberation Mono', monospace;font-size:24px;color:#f0f0f2;">payment</div>
<div class="t" style="left:1666.5px;top:870.8px;font-family:'Liberation Mono', monospace;font-size:24px;color:#f27f7f;">Error</div>
<div class="t" style="left:1896.6px;top:870.8px;font-family:'Liberation Mono', monospace;font-size:24px;color:#f0f0f2;">0</div>
<div class="t" style="left:2216.5px;top:870.8px;font-family:'Liberation Mono', monospace;font-size:24px;color:#f0f0f2;">Error: The credit card (ending 3139) expired on 4/2025.</div>
<svg class="r" style="left:971px;top:910px;" width="14" height="22" viewBox="0 0 14 22"><polyline points="2,2 11,11 2,20" fill="none" stroke="#c4c5c9" stroke-width="1.6"/></svg>
<div class="t" style="left:1006.6px;top:910.8px;font-family:'Liberation Mono', monospace;font-size:24px;color:#dcdcde;">May 26 9:03:31.187 PM</div>
<div class="t" style="left:1346.6px;top:910.8px;font-family:'Liberation Mono', monospace;font-size:24px;color:#f0f0f2;">payment</div>
<div class="t" style="left:1666.5px;top:910.8px;font-family:'Liberation Mono', monospace;font-size:24px;color:#f27f7f;">Error</div>
<div class="t" style="left:1896.6px;top:910.8px;font-family:'Liberation Mono', monospace;font-size:24px;color:#f0f0f2;">0</div>
<div class="t" style="left:2216.5px;top:910.8px;font-family:'Liberation Mono', monospace;font-size:24px;color:#f0f0f2;">Error: The credit card (ending 7175) expired on 4/2025.</div>
<svg class="r" style="left:971px;top:950px;" width="14" height="22" viewBox="0 0 14 22"><polyline points="2,2 11,11 2,20" fill="none" stroke="#c4c5c9" stroke-width="1.6"/></svg>
<div class="t" style="left:1006.6px;top:950.8px;font-family:'Liberation Mono', monospace;font-size:24px;color:#dcdcde;">May 26 8:50:43.624 PM</div>
<div class="t" style="left:1346.6px;top:950.8px;font-family:'Liberation Mono', monospace;font-size:24px;color:#f0f0f2;">payment</div>
<div class="t" style="left:1666.5px;top:950.8px;font-family:'Liberation Mono', monospace;font-size:24px;color:#f27f7f;">Error</div>
<div class="t" style="left:1896.6px;top:950.8px;font-family:'Liberation Mono', monospace;font-size:24px;color:#f0f0f2;">0</div>
<div class="t" style="left:2216.5px;top:950.8px;font-family:'Liberation Mono', monospace;font-size:24px;color:#f0f0f2;">Error: Visa cache full: cannot add new item.</div>
<svg class="r" style="left:971px;top:990px;" width="14" height="22" viewBox="0 0 14 22"><polyline points="2,2 11,11 2,20" fill="none" stroke="#c4c5c9" stroke-width="1.6"/></svg>
<div class="t" style="left:1006.6px;top:990.8px;font-family:'Liberation Mono', monospace;font-size:24px;color:#dcdcde;">May 26 8:50:43.613 PM</div>
<div class="t" style="left:1346.6px;top:990.8px;font-family:'Liberation Mono', monospace;font-size:24px;color:#f0f0f2;">payment</div>
<div class="t" style="left:1666.5px;top:990.8px;font-family:'Liberation Mono', monospace;font-size:24px;color:#f27f7f;">Error</div>
<div class="t" style="left:1896.6px;top:990.8px;font-family:'Liberation Mono', monospace;font-size:24px;color:#f0f0f2;">0</div>
<div class="t" style="left:2216.5px;top:990.8px;font-family:'Liberation Mono', monospace;font-size:24px;color:#f0f0f2;">Error: Visa cache full: cannot add new item.</div>
<svg class="r" style="left:971px;top:1030px;" width="14" height="22" viewBox="0 0 14 22"><polyline points="2,2 11,11 2,20" fill="none" stroke="#c4c5c9" stroke-width="1.6"/></svg>
<div class="t" style="left:1006.6px;top:1030.8px;font-family:'Liberation Mono', monospace;font-size:24px;color:#dcdcde;">May 26 8:50:43.534 PM</div>
<div class="t" style="left:1346.6px;top:1030.8px;font-family:'Liberation Mono', monospace;font-size:24px;color:#f0f0f2;">payment</div>
<div class="t" style="left:1666.5px;top:1030.8px;font-family:'Liberation Mono', monospace;font-size:24px;color:#f27f7f;">Error</div>
<div class="t" style="left:1896.6px;top:1030.8px;font-family:'Liberation Mono', monospace;font-size:24px;color:#f0f0f2;">0</div>
<div class="t" style="left:2216.5px;top:1030.8px;font-family:'Liberation Mono', monospace;font-size:24px;color:#f0f0f2;">Error: Visa cache full: cannot add new item.</div>
<svg class="r" style="left:971px;top:1070px;" width="14" height="22" viewBox="0 0 14 22"><polyline points="2,2 11,11 2,20" fill="none" stroke="#c4c5c9" stroke-width="1.6"/></svg>
<div class="t" style="left:1006.6px;top:1070.8px;font-family:'Liberation Mono', monospace;font-size:24px;color:#dcdcde;">May 26 8:50:43.466 PM</div>
<div class="t" style="left:1346.6px;top:1070.8px;font-family:'Liberation Mono', monospace;font-size:24px;color:#f0f0f2;">payment</div>
<div class="t" style="left:1666.5px;top:1070.8px;font-family:'Liberation Mono', monospace;font-size:24px;color:#f27f7f;">Error</div>
<div class="t" style="left:1896.6px;top:1070.8px;font-family:'Liberation Mono', monospace;font-size:24px;color:#f0f0f2;">0</div>
<div class="t" style="left:2216.5px;top:1070.8px;font-family:'Liberation Mono', monospace;font-size:24px;color:#f0f0f2;">Error: Visa cache full: cannot add new item.</div>
<svg class="r" style="left:971px;top:1110px;" width="14" height="22" viewBox="0 0 14 22"><polyline points="2,2 11,11 2,20" fill="none" stroke="#c4c5c9" stroke-width="1.6"/></svg>
<div class="t" style="left:1006.6px;top:1110.8px;font-family:'Liberation Mono', monospace;font-size:24px;color:#dcdcde;">May 26 8:50:43.455 PM</div>
<div class="t" style="left:1346.6px;top:1110.8px;font-family:'Liberation Mono', monospace;font-size:24px;color:#f0f0f2;">payment</div>
<div class="t" style="left:1666.5px;top:1110.8px;font-family:'Liberation Mono', monospace;font-size:24px;color:#f27f7f;">Error</div>
<div class="t" style="left:1896.6px;top:1110.8px;font-family:'Liberation Mono', monospace;font-size:24px;color:#f0f0f2;">0</div>
<div class="t" style="left:2216.5px;top:1110.8px;font-family:'Liberation Mono', monospace;font-size:24px;color:#f0f0f2;">Error: Visa cache full: cannot add new item.</div>
<svg class="r" style="left:971px;top:1150px;" width="14" height="22" viewBox="0 0 14 22"><polyline points="2,2 11,11 2,20" fill="none" stroke="#c4c5c9" stroke-width="1.6"/></svg>
<div class="t" style="left:1006.6px;top:1150.8px;font-family:'Liberation Mono', monospace;font-size:24px;color:#dcdcde;">May 26 8:50:43.444 PM</div>
<div class="t" style="left:1346.6px;top:1150.8px;font-family:'Liberation Mono', monospace;font-size:24px;color:#f0f0f2;">payment</div>
<div class="t" style="left:1666.5px;top:1150.8px;font-family:'Liberation Mono', monospace;font-size:24px;color:#f27f7f;">Error</div>
<div class="t" style="left:1896.6px;top:1150.8px;font-family:'Liberation Mono', monospace;font-size:24px;color:#f0f0f2;">0</div>
<div class="t" style="left:2216.5px;top:1150.8px;font-family:'Liberation Mono', monospace;font-size:24px;color:#f0f0f2;">Error: Visa cache full: cannot add new item.</div>
<svg class="r" style="left:971px;top:1190px;" width="14" height="22" viewBox="0 0 14 22"><polyline points="2,2 11,11 2,20" fill="none" stroke="#c4c5c9" stroke-width="1.6"/></svg>
<div class="t" style="left:1006.6px;top:1190.8px;font-family:'Liberation Mono', monospace;font-size:24px;color:#dcdcde;">May 26 8:50:43.349 PM</div>
<div class="t" style="left:1346.6px;top:1190.8px;font-family:'Liberation Mono', monospace;font-size:24px;color:#f0f0f2;">payment</div>
<div class="t" style="left:1666.5px;top:1190.8px;font-family:'Liberation Mono', monospace;font-size:24px;color:#f27f7f;">Error</div>
<div class="t" style="left:1896.6px;top:1190.8px;font-family:'Liberation Mono', monospace;font-size:24px;color:#f0f0f2;">0</div>
<div class="t" style="left:2216.5px;top:1190.8px;font-family:'Liberation Mono', monospace;font-size:24px;color:#f0f0f2;">Error: Visa cache full: cannot add new item.</div>
<svg class="r" style="left:971px;top:1230px;" width="14" height="22" viewBox="0 0 14 22"><polyline points="2,2 11,11 2,20" fill="none" stroke="#c4c5c9" stroke-width="1.6"/></svg>
<div class="t" style="left:1006.6px;top:1230.8px;font-family:'Liberation Mono', monospace;font-size:24px;color:#dcdcde;">May 26 8:50:43.307 PM</div>
<div class="t" style="left:1346.6px;top:1230.8px;font-family:'Liberation Mono', monospace;font-size:24px;color:#f0f0f2;">payment</div>
<div class="t" style="left:1666.5px;top:1230.8px;font-family:'Liberation Mono', monospace;font-size:24px;color:#f27f7f;">Error</div>
<div class="t" style="left:1896.6px;top:1230.8px;font-family:'Liberation Mono', monospace;font-size:24px;color:#f0f0f2;">0</div>
<div class="t" style="left:2216.5px;top:1230.8px;font-family:'Liberation Mono', monospace;font-size:24px;color:#f0f0f2;">Error: Visa cache full: cannot add new item.</div>
<svg class="r" style="left:971px;top:1270px;" width="14" height="22" viewBox="0 0 14 22"><polyline points="2,2 11,11 2,20" fill="none" stroke="#c4c5c9" stroke-width="1.6"/></svg>
<div class="t" style="left:1006.6px;top:1270.8px;font-family:'Liberation Mono', monospace;font-size:24px;color:#dcdcde;">May 26 8:50:42.878 PM</div>
<div class="t" style="left:1346.6px;top:1270.8px;font-family:'Liberation Mono', monospace;font-size:24px;color:#f0f0f2;">payment</div>
<div class="t" style="left:1666.5px;top:1270.8px;font-family:'Liberation Mono', monospace;font-size:24px;color:#f27f7f;">Error</div>
<div class="t" style="left:1896.6px;top:1270.8px;font-family:'Liberation Mono', monospace;font-size:24px;color:#f0f0f2;">0</div>
<div class="t" style="left:2216.5px;top:1270.8px;font-family:'Liberation Mono', monospace;font-size:24px;color:#f0f0f2;">Error: Visa cache full: cannot add new item.</div>
<svg class="r" style="left:971px;top:1310px;" width="14" height="22" viewBox="0 0 14 22"><polyline points="2,2 11,11 2,20" fill="none" stroke="#c4c5c9" stroke-width="1.6"/></svg>
<div class="t" style="left:1006.6px;top:1310.8px;font-family:'Liberation Mono', monospace;font-size:24px;color:#dcdcde;">May 26 8:50:42.655 PM</div>
<div class="t" style="left:1346.6px;top:1310.8px;font-family:'Liberation Mono', monospace;font-size:24px;color:#f0f0f2;">payment</div>
<div class="t" style="left:1666.5px;top:1310.8px;font-family:'Liberation Mono', monospace;font-size:24px;color:#f27f7f;">Error</div>
<div class="t" style="left:1896.6px;top:1310.8px;font-family:'Liberation Mono', monospace;font-size:24px;color:#f0f0f2;">0</div>
<div class="t" style="left:2216.5px;top:1310.8px;font-family:'Liberation Mono', monospace;font-size:24px;color:#f0f0f2;">Error: Visa cache full: cannot add new item.</div>
<svg class="r" style="left:971px;top:1350px;" width="14" height="22" viewBox="0 0 14 22"><polyline points="2,2 11,11 2,20" fill="none" stroke="#c4c5c9" stroke-width="1.6"/></svg>
<div class="t" style="left:1006.6px;top:1350.8px;font-family:'Liberation Mono', monospace;font-size:24px;color:#dcdcde;">May 26 8:50:41.115 PM</div>
<div class="t" style="left:1346.6px;top:1350.8px;font-family:'Liberation Mono', monospace;font-size:24px;color:#f0f0f2;">payment</div>
<div class="t" style="left:1666.5px;top:1350.8px;font-family:'Liberation Mono', monospace;font-size:24px;color:#f27f7f;">Error</div>
<div class="t" style="left:1896.6px;top:1350.8px;font-family:'Liberation Mono', monospace;font-size:24px;color:#f0f0f2;">0</div>
<div class="t" style="left:2216.5px;top:1350.8px;font-family:'Liberation Mono', monospace;font-size:24px;color:#f0f0f2;">Error: Visa cache full: cannot add new item.</div>
<svg class="r" style="left:971px;top:1390px;" width="14" height="22" viewBox="0 0 14 22"><polyline points="2,2 11,11 2,20" fill="none" stroke="#c4c5c9" stroke-width="1.6"/></svg>
<div class="t" style="left:1006.6px;top:1390.8px;font-family:'Liberation Mono', monospace;font-size:24px;color:#dcdcde;">May 26 8:50:39.901 PM</div>
<div class="t" style="left:1346.6px;top:1390.8px;font-family:'Liberation Mono', monospace;font-size:24px;color:#f0f0f2;">payment</div>
<div class="t" style="left:1666.5px;top:1390.8px;font-family:'Liberation Mono', monospace;font-size:24px;color:#f27f7f;">Error</div>
<div class="t" style="left:1896.6px;top:1390.8px;font-family:'Liberation Mono', monospace;font-size:24px;color:#f0f0f2;">0</div>
<div class="t" style="left:2216.5px;top:1390.8px;font-family:'Liberation Mono', monospace;font-size:24px;color:#f0f0f2;">Error: Visa cache full: cannot add new item.</div>
<svg class="r" style="left:971px;top:1430px;" width="14" height="22" viewBox="0 0 14 22"><polyline points="2,2 11,11 2,20" fill="none" stroke="#c4c5c9" stroke-width="1.6"/></svg>
<div class="t" style="left:1006.6px;top:1430.8px;font-family:'Liberation Mono', monospace;font-size:24px;color:#dcdcde;">May 26 8:50:39.856 PM</div>
<div class="t" style="left:1346.6px;top:1430.8px;font-family:'Liberation Mono', monospace;font-size:24px;color:#f0f0f2;">payment</div>
<div class="t" style="left:1666.5px;top:1430.8px;font-family:'Liberation Mono', monospace;font-size:24px;color:#f27f7f;">Error</div>
<div class="t" style="left:1896.6px;top:1430.8px;font-family:'Liberation Mono', monospace;font-size:24px;color:#f0f0f2;">0</div>
<div class="t" style="left:2216.5px;top:1430.8px;font-family:'Liberation Mono', monospace;font-size:24px;color:#f0f0f2;">Error: Visa cache full: cannot add new item.</div>
<svg class="r" style="left:971px;top:1470px;" width="14" height="22" viewBox="0 0 14 22"><polyline points="2,2 11,11 2,20" fill="none" stroke="#c4c5c9" stroke-width="1.6"/></svg>
<div class="t" style="left:1006.6px;top:1470.8px;font-family:'Liberation Mono', monospace;font-size:24px;color:#dcdcde;">May 26 8:50:39.692 PM</div>
<div class="t" style="left:1346.6px;top:1470.8px;font-family:'Liberation Mono', monospace;font-size:24px;color:#f0f0f2;">payment</div>
<div class="t" style="left:1666.5px;top:1470.8px;font-family:'Liberation Mono', monospace;font-size:24px;color:#f27f7f;">Error</div>
<div class="t" style="left:1896.6px;top:1470.8px;font-family:'Liberation Mono', monospace;font-size:24px;color:#f0f0f2;">0</div>
<div class="t" style="left:2216.5px;top:1470.8px;font-family:'Liberation Mono', monospace;font-size:24px;color:#f0f0f2;">Error: Visa cache full: cannot add new item.</div>
<svg class="r" style="left:971px;top:1510px;" width="14" height="22" viewBox="0 0 14 22"><polyline points="2,2 11,11 2,20" fill="none" stroke="#c4c5c9" stroke-width="1.6"/></svg>
<div class="t" style="left:1006.6px;top:1510.8px;font-family:'Liberation Mono', monospace;font-size:24px;color:#dcdcde;">May 26 8:50:39.641 PM</div>
<div class="t" style="left:1346.6px;top:1510.8px;font-family:'Liberation Mono', monospace;font-size:24px;color:#f0f0f2;">payment</div>
<div class="t" style="left:1666.5px;top:1510.8px;font-family:'Liberation Mono', monospace;font-size:24px;color:#f27f7f;">Error</div>
<div class="t" style="left:1896.6px;top:1510.8px;font-family:'Liberation Mono', monospace;font-size:24px;color:#f0f0f2;">0</div>
<div class="t" style="left:2216.5px;top:1510.8px;font-family:'Liberation Mono', monospace;font-size:24px;color:#f0f0f2;">Error: Visa cache full: cannot add new item.</div>
<svg class="r" style="left:971px;top:1550px;" width="14" height="22" viewBox="0 0 14 22"><polyline points="2,2 11,11 2,20" fill="none" stroke="#c4c5c9" stroke-width="1.6"/></svg>
<div class="t" style="left:1006.6px;top:1550.8px;font-family:'Liberation Mono', monospace;font-size:24px;color:#dcdcde;">May 26 8:50:39.551 PM</div>
<div class="t" style="left:1346.6px;top:1550.8px;font-family:'Liberation Mono', monospace;font-size:24px;color:#f0f0f2;">payment</div>
<div class="t" style="left:1666.5px;top:1550.8px;font-family:'Liberation Mono', monospace;font-size:24px;color:#f27f7f;">Error</div>
<div class="t" style="left:1896.6px;top:1550.8px;font-family:'Liberation Mono', monospace;font-size:24px;color:#f0f0f2;">0</div>
<div class="t" style="left:2216.5px;top:1550.8px;font-family:'Liberation Mono', monospace;font-size:24px;color:#f0f0f2;">Error: Visa cache full: cannot add new item.</div>
<svg class="r" style="left:971px;top:1590px;" width="14" height="22" viewBox="0 0 14 22"><polyline points="2,2 11,11 2,20" fill="none" stroke="#c4c5c9" stroke-width="1.6"/></svg>
<div class="t" style="left:1006.6px;top:1590.8px;font-family:'Liberation Mono', monospace;font-size:24px;color:#dcdcde;">May 26 8:50:39.513 PM</div>
<div class="t" style="left:1346.6px;top:1590.8px;font-family:'Liberation Mono', monospace;font-size:24px;color:#f0f0f2;">payment</div>
<div class="t" style="left:1666.5px;top:1590.8px;font-family:'Liberation Mono', monospace;font-size:24px;color:#f27f7f;">Error</div>
<div class="t" style="left:1896.6px;top:1590.8px;font-family:'Liberation Mono', monospace;font-size:24px;color:#f0f0f2;">0</div>
<div class="t" style="left:2216.5px;top:1590.8px;font-family:'Liberation Mono', monospace;font-size:24px;color:#f0f0f2;">Error: Visa cache full: cannot add new item.</div>
<svg class="r" style="left:971px;top:1630px;" width="14" height="22" viewBox="0 0 14 22"><polyline points="2,2 11,11 2,20" fill="none" stroke="#c4c5c9" stroke-width="1.6"/></svg>
<div class="t" style="left:1006.6px;top:1630.8px;font-family:'Liberation Mono', monospace;font-size:24px;color:#dcdcde;">May 26 8:50:39.453 PM</div>
<div class="t" style="left:1346.6px;top:1630.8px;font-family:'Liberation Mono', monospace;font-size:24px;color:#f0f0f2;">payment</div>
<div class="t" style="left:1666.5px;top:1630.8px;font-family:'Liberation Mono', monospace;font-size:24px;color:#f27f7f;">Error</div>
<div class="t" style="left:1896.6px;top:1630.8px;font-family:'Liberation Mono', monospace;font-size:24px;color:#f0f0f2;">0</div>
<div class="t" style="left:2216.5px;top:1630.8px;font-family:'Liberation Mono', monospace;font-size:24px;color:#f0f0f2;">Error: Visa cache full: cannot add new item.</div>
<svg class="r" style="left:971px;top:1670px;" width="14" height="22" viewBox="0 0 14 22"><polyline points="2,2 11,11 2,20" fill="none" stroke="#c4c5c9" stroke-width="1.6"/></svg>
<div class="t" style="left:1006.6px;top:1670.8px;font-family:'Liberation Mono', monospace;font-size:24px;color:#dcdcde;">May 26 8:50:39.442 PM</div>
<div class="t" style="left:1346.6px;top:1670.8px;font-family:'Liberation Mono', monospace;font-size:24px;color:#f0f0f2;">payment</div>
<div class="t" style="left:1666.5px;top:1670.8px;font-family:'Liberation Mono', monospace;font-size:24px;color:#f27f7f;">Error</div>
<div class="t" style="left:1896.6px;top:1670.8px;font-family:'Liberation Mono', monospace;font-size:24px;color:#f0f0f2;">0</div>
<div class="t" style="left:2216.5px;top:1670.8px;font-family:'Liberation Mono', monospace;font-size:24px;color:#f0f0f2;">Error: Visa cache full: cannot add new item.</div>
<svg class="r" style="left:971px;top:1710px;" width="14" height="22" viewBox="0 0 14 22"><polyline points="2,2 11,11 2,20" fill="none" stroke="#c4c5c9" stroke-width="1.6"/></svg>
<div class="t" style="left:1006.6px;top:1710.8px;font-family:'Liberation Mono', monospace;font-size:24px;color:#dcdcde;">May 26 8:50:39.399 PM</div>
<div class="t" style="left:1346.6px;top:1710.8px;font-family:'Liberation Mono', monospace;font-size:24px;color:#f0f0f2;">payment</div>
<div class="t" style="left:1666.5px;top:1710.8px;font-family:'Liberation Mono', monospace;font-size:24px;color:#f27f7f;">Error</div>
<div class="t" style="left:1896.6px;top:1710.8px;font-family:'Liberation Mono', monospace;font-size:24px;color:#f0f0f2;">0</div>
<div class="t" style="left:2216.5px;top:1710.8px;font-family:'Liberation Mono', monospace;font-size:24px;color:#f0f0f2;">Error: Visa cache full: cannot add new item.</div>
<svg class="r" style="left:971px;top:1750px;" width="14" height="22" viewBox="0 0 14 22"><polyline points="2,2 11,11 2,20" fill="none" stroke="#c4c5c9" stroke-width="1.6"/></svg>
<div class="t" style="left:1006.6px;top:1750.8px;font-family:'Liberation Mono', monospace;font-size:24px;color:#dcdcde;">May 26 8:50:39.379 PM</div>
<div class="t" style="left:1346.6px;top:1750.8px;font-family:'Liberation Mono', monospace;font-size:24px;color:#f0f0f2;">payment</div>
<div class="t" style="left:1666.5px;top:1750.8px;font-family:'Liberation Mono', monospace;font-size:24px;color:#f27f7f;">Error</div>
<div class="t" style="left:1896.6px;top:1750.8px;font-family:'Liberation Mono', monospace;font-size:24px;color:#f0f0f2;">0</div>
<div class="t" style="left:2216.5px;top:1750.8px;font-family:'Liberation Mono', monospace;font-size:24px;color:#f0f0f2;">Error: Visa cache full: cannot add new item.</div>
<svg class="r" style="left:971px;top:1790px;" width="14" height="22" viewBox="0 0 14 22"><polyline points="2,2 11,11 2,20" fill="none" stroke="#c4c5c9" stroke-width="1.6"/></svg>
<div class="t" style="left:1006.6px;top:1790.8px;font-family:'Liberation Mono', monospace;font-size:24px;color:#dcdcde;">May 26 8:50:39.337 PM</div>
<div class="t" style="left:1346.6px;top:1790.8px;font-family:'Liberation Mono', monospace;font-size:24px;color:#f0f0f2;">payment</div>
<div class="t" style="left:1666.5px;top:1790.8px;font-family:'Liberation Mono', monospace;font-size:24px;color:#f27f7f;">Error</div>
<div class="t" style="left:1896.6px;top:1790.8px;font-family:'Liberation Mono', monospace;font-size:24px;color:#f0f0f2;">0</div>
<div class="t" style="left:2216.5px;top:1790.8px;font-family:'Liberation Mono', monospace;font-size:24px;color:#f0f0f2;">Error: Visa cache full: cannot add new item.</div>
<svg class="r" style="left:971px;top:1830px;" width="14" height="22" viewBox="0 0 14 22"><polyline points="2,2 11,11 2,20" fill="none" stroke="#c4c5c9" stroke-width="1.6"/></svg>
<div class="t" style="left:1006.6px;top:1830.8px;font-family:'Liberation Mono', monospace;font-size:24px;color:#dcdcde;">May 26 8:50:39.298 PM</div>
<div class="t" style="left:1346.6px;top:1830.8px;font-family:'Liberation Mono', monospace;font-size:24px;color:#f0f0f2;">payment</div>
<div class="t" style="left:1666.5px;top:1830.8px;font-family:'Liberation Mono', monospace;font-size:24px;color:#f27f7f;">Error</div>
<div class="t" style="left:1896.6px;top:1830.8px;font-family:'Liberation Mono', monospace;font-size:24px;color:#f0f0f2;">0</div>
<div class="t" style="left:2216.5px;top:1830.8px;font-family:'Liberation Mono', monospace;font-size:24px;color:#f0f0f2;">Error: Visa cache full: cannot add new item.</div>
<div class="r" style="left:964px;top:505px;width:2636px;height:63.5px;background:#1b1c21;"></div>
<div class="t" style="left:1006.6px;top:539.4px;font-family:'Liberation Mono', monospace;font-size:24px;color:#f4f4f5;font-weight:700;">Timestamp (Local)</div>
<div class="t" style="left:1346.6px;top:539.4px;font-family:'Liberation Mono', monospace;font-size:24px;color:#f4f4f5;font-weight:700;">service</div>
<div class="t" style="left:1666.5px;top:539.4px;font-family:'Liberation Mono', monospace;font-size:24px;color:#f4f4f5;font-weight:700;">level</div>
<div class="t" style="left:1896.6px;top:539.4px;font-family:'Liberation Mono', monospace;font-size:24px;color:#f4f4f5;font-weight:700;">duration</div>
<div class="t" style="left:2216.5px;top:539.4px;font-family:'Liberation Mono', monospace;font-size:24px;color:#f4f4f5;font-weight:700;">SpanName</div>
<svg class="r" style="left:1321px;top:536px;" width="6" height="22" viewBox="0 0 6 22"><circle cx="3" cy="3" r="2.3" fill="#6b6f78"/><circle cx="3" cy="10.7" r="2.3" fill="#6b6f78"/><circle cx="3" cy="18.4" r="2.3" fill="#6b6f78"/></svg>
<svg class="r" style="left:1640px;top:536px;" width="6" height="22" viewBox="0 0 6 22"><circle cx="3" cy="3" r="2.3" fill="#6b6f78"/><circle cx="3" cy="10.7" r="2.3" fill="#6b6f78"/><circle cx="3" cy="18.4" r="2.3" fill="#6b6f78"/></svg>
<svg class="r" style="left:1871px;top:536px;" width="6" height="22" viewBox="0 0 6 22"><circle cx="3" cy="3" r="2.3" fill="#6b6f78"/><circle cx="3" cy="10.7" r="2.3" fill="#6b6f78"/><circle cx="3" cy="18.4" r="2.3" fill="#6b6f78"/></svg>
<svg class="r" style="left:2191px;top:536px;" width="6" height="22" viewBox="0 0 6 22"><circle cx="3" cy="3" r="2.3" fill="#6b6f78"/><circle cx="3" cy="10.7" r="2.3" fill="#6b6f78"/><circle cx="3" cy="18.4" r="2.3" fill="#6b6f78"/></svg>
<svg class="r" style="left:3576px;top:536px;" width="6" height="22" viewBox="0 0 6 22"><circle cx="3" cy="3" r="2.3" fill="#6b6f78"/><circle cx="3" cy="10.7" r="2.3" fill="#6b6f78"/><circle cx="3" cy="18.4" r="2.3" fill="#6b6f78"/></svg>
<div class="r" style="left:2131px;top:491px;width:302px;height:44px;background:#1b1c21;border:2.5px solid #1fd39c;border-radius:5px;box-sizing:border-box;"></div>
<svg class="r" style="left:2148px;top:500px;" width="22" height="26" viewBox="0 0 22 26"><path d="M14 1 L3 15 L10 15 L7 25 L19 10 L12 10 Z" fill="#5ef0b6"/></svg>
<div class="t" style="left:2188.0px;top:503.8px;font-family:'Liberation Mono', monospace;font-size:24px;color:#2ee0a6;font-weight:700;">Resume Live Tail</div>
<div class="r" style="left:466px;top:264px;width:278px;height:78px;border:10px solid #00b9a3;box-sizing:border-box;box-shadow:0 4px 8px rgba(0,0,0,0.55), inset 0 4px 8px rgba(0,0,0,0.55);"></div>
<div class="r" style="left:466px;top:548px;width:308px;height:260px;border:10px solid #00b9a3;box-sizing:border-box;box-shadow:0 4px 8px rgba(0,0,0,0.55), inset 0 4px 8px rgba(0,0,0,0.55);"></div>
<div class="r" style="left:940px;top:894px;width:2086px;height:98px;border:10px solid #00b9a3;box-sizing:border-box;box-shadow:0 4px 8px rgba(0,0,0,0.55), inset 0 4px 8px rgba(0,0,0,0.55);"></div>
<div class="r" style="left:0;top:0;width:3600px;height:1856px;box-sizing:border-box;border:2px solid #46474c;border-top-width:1px;border-bottom-width:2px;border-radius:0 0 20px 20px;box-shadow:0 0 0 30px #0a0a0b;"></div>
</div></body></html>
